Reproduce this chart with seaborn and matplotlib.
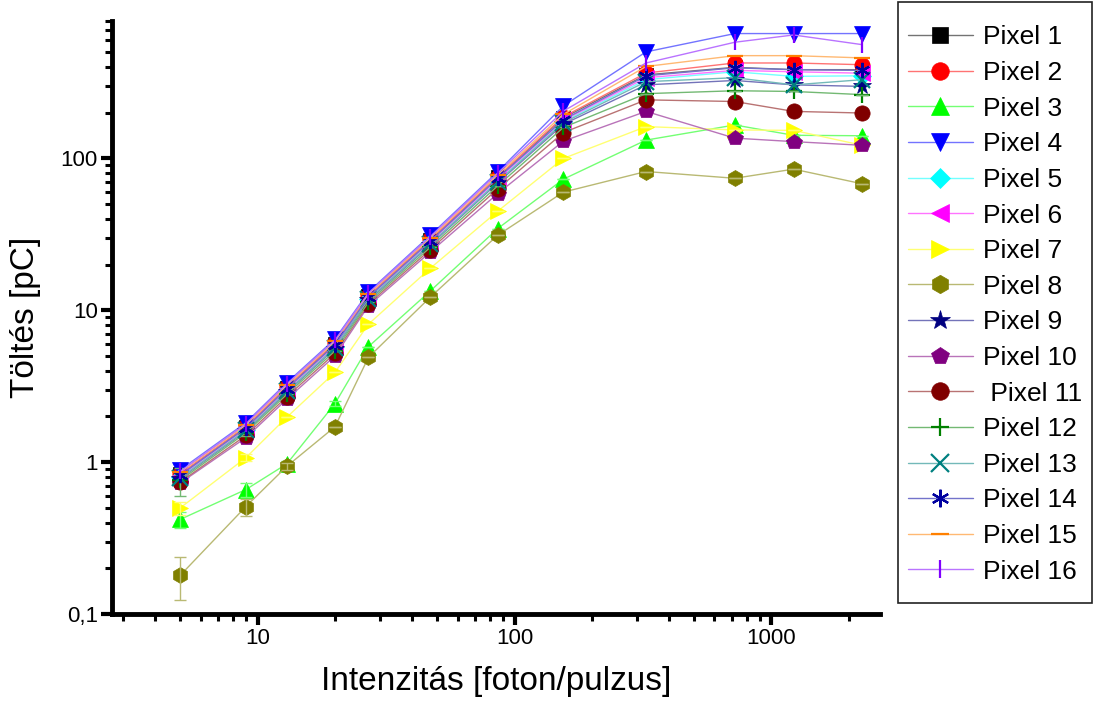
import numpy as np
import matplotlib
matplotlib.use("Agg")
import matplotlib.pyplot as plt
import matplotlib.ticker as ticker
import matplotlib.colors as mcolors
from matplotlib.patches import Rectangle
from matplotlib.lines import Line2D
import seaborn as sns

sns.set_style("white")
plt.rcParams['font.family'] = ['Liberation Sans', 'DejaVu Sans']
plt.rcParams.update({"text.color": "black", "axes.labelcolor": "black",
                     "xtick.color": "black", "ytick.color": "black",
                     "axes.edgecolor": "black"})

# intensity values (photon / pulse)
intensity = [5, 9, 13, 20, 27, 47, 86, 155, 325, 720, 1220, 2260]

pixel_1 = [0.83, 1.70, 3.10, 6.02, 12.4, 28.9, 75, 185, 355, 398, 384, 384]
pixel_2 = [0.84, 1.72, 3.14, 6.10, 12.5, 29.3, 76, 188, 365, 425, 425, 414]
pixel_3 = [0.42, 0.66, 0.975, 2.43, 5.76, 13.4, 34.5, 73, 132, 166, 142, 141]
pixel_4 = [0.89, 1.82, 3.34, 6.47, 13.2, 31.2, 81.7, 222, 503, 664, 664, 664]
pixel_5 = [0.80, 1.64, 2.96, 5.76, 11.9, 27.7, 71, 175, 330, 372, 347, 350]
pixel_6 = [0.81, 1.66, 3.00, 5.85, 12.1, 28.1, 72.5, 178, 340, 380, 372, 364]
pixel_7 = [0.50, 1.07, 1.98, 3.90, 8.1, 18.9, 44.9, 100, 162, 154, 153, 122]
pixel_8 = [0.18, 0.51, 0.94, 1.71, 4.9, 12.2, 31.2, 60, 82, 74, 85, 68]
pixel_9 = [0.78, 1.60, 2.88, 5.60, 11.6, 26.9, 69, 168, 305, 326, 305, 298]
pixel_10 = [0.73, 1.45, 2.60, 5.00, 10.7, 24.2, 58.7, 130, 204, 136, 129, 122]
pixel_11 = [0.74, 1.50, 2.70, 5.20, 11.0, 25.1, 63, 148, 243, 237, 204, 199]
pixel_12 = [0.76, 1.56, 2.80, 5.40, 11.3, 26.0, 66, 160, 267, 279, 276, 263]
pixel_13 = [0.79, 1.62, 2.92, 5.68, 11.8, 27.3, 70, 172, 320, 340, 305, 330]
pixel_14 = [0.82, 1.68, 3.05, 5.93, 12.2, 28.5, 74, 180, 350, 395, 384, 380]
pixel_15 = [0.86, 1.76, 3.22, 6.25, 12.8, 30.0, 78, 195, 403, 475, 475, 459]
pixel_16 = [0.87, 1.79, 3.28, 6.35, 13.0, 30.6, 80, 205, 425, 582, 650, 561]

# visible error bars (first points only)
err_3 = [0.05, 0.07, 0.05, 0.1, 0, 0, 0, 0, 0, 0, 0, 0]
err_7 = [0.05, 0.06, 0, 0, 0, 0, 0, 0, 0, 0, 0, 0]
err_8 = [0.056, 0.065, 0.05, 0, 0, 0, 0, 0, 0, 0, 0, 0]
err_12 = [0.16, 0.08, 0, 0, 0, 0, 0, 0, 0, 0, 0, 0]

labels = ["Pixel %d" % i for i in range(1, 17)]
labels[10] = " Pixel 11"
series = [pixel_1, pixel_2, pixel_3, pixel_4, pixel_5, pixel_6, pixel_7, pixel_8,
          pixel_9, pixel_10, pixel_11, pixel_12, pixel_13, pixel_14, pixel_15, pixel_16]
colors = ["#000000", "#ff0000", "#00ff00", "#0000ff", "#00ffff", "#ff00ff", "#ffff00", "#808000",
          "#000080", "#800080", "#800000", "#008000", "#008080", "#0000a0", "#ff8000", "#8000ff"]
markers = ["s", "o", "^", "v", "D", "<", ">", "h", "*", "p", "o", "+", "x", (6, 2, 0), "_", "|"]
sizes = [9.5, 11, 11, 11, 9, 11, 11, 11.5, 13, 11.5, 11, 11, 11, 11, 11, 11]
errors = {2: err_3, 6: err_7, 7: err_8, 11: err_12}


def lighter(c, k=0.45):
    r, g, b = mcolors.to_rgb(c)
    return (r + (1 - r) * k, g + (1 - g) * k, b + (1 - b) * k)


fig = plt.figure(figsize=(10.94, 7.09), dpi=100)
ax = fig.add_axes([0.102, 0.134, 0.7025, 0.836])

handles = []
for i, vals in enumerate(series):
    c = colors[i]
    lc = lighter(c)
    mew = 1.6 if markers[i] in ("+", "x", (6, 2, 0), "_", "|") else 0.5
    sns.lineplot(x=intensity, y=vals, ax=ax, color=lc, linewidth=1.0, marker=markers[i],
                 markersize=sizes[i], markeredgecolor=c, markerfacecolor=c,
                 markeredgewidth=mew, legend=False)
    if i in errors:
        ax.errorbar(intensity, vals, yerr=errors[i], fmt="none", ecolor=lc,
                    elinewidth=1.0, capsize=4, capthick=1.0)
    handles.append(Line2D([], [], color=lc, linewidth=1.0, marker=markers[i],
                          markersize=sizes[i] * 1.15, markeredgecolor=c, markerfacecolor=c,
                          markeredgewidth=mew, label=labels[i]))

ax.set_xscale("log")
ax.set_yscale("log")
ax.set_xlim(2.7, 2650)
ax.set_ylim(0.1, 800)

fmt = ticker.FuncFormatter(lambda v, p: ("%g" % v).replace(".", ","))
ax.xaxis.set_major_formatter(fmt)
ax.yaxis.set_major_formatter(fmt)
ax.xaxis.set_minor_formatter(ticker.NullFormatter())
ax.yaxis.set_minor_formatter(ticker.NullFormatter())
ax.xaxis.set_minor_locator(ticker.LogLocator(subs=np.arange(2, 10)))
ax.yaxis.set_minor_locator(ticker.LogLocator(subs=np.arange(2, 10)))

for s in ["top", "right"]:
    ax.spines[s].set_visible(False)
for s in ["left", "bottom"]:
    ax.spines[s].set_linewidth(3.5)
ax.tick_params(which="major", direction="out", length=8, width=3, labelsize=16, pad=2)
ax.tick_params(which="minor", direction="out", length=5, width=2.2)
ax.tick_params(axis="x", bottom=True, which="both")
ax.tick_params(axis="y", left=True, which="both")

ax.set_xlabel("Intenzitás [foton/pulzus]", fontsize=24, labelpad=12)
ax.set_ylabel("Töltés [pC]", fontsize=24, labelpad=14)

leg = fig.legend(handles=handles, loc="upper left", bbox_to_anchor=(0.8203, 0.979),
                 frameon=False, fontsize=19, handlelength=2.45, handletextpad=0.38,
                 labelspacing=0.44, borderpad=0.4, borderaxespad=0)
fig.patches.append(Rectangle((0.821, 0.1495), 0.177, 0.8475, transform=fig.transFigure,
                             fill=False, edgecolor="#222222", linewidth=1.2))

fig.savefig("out.png", dpi=100)
